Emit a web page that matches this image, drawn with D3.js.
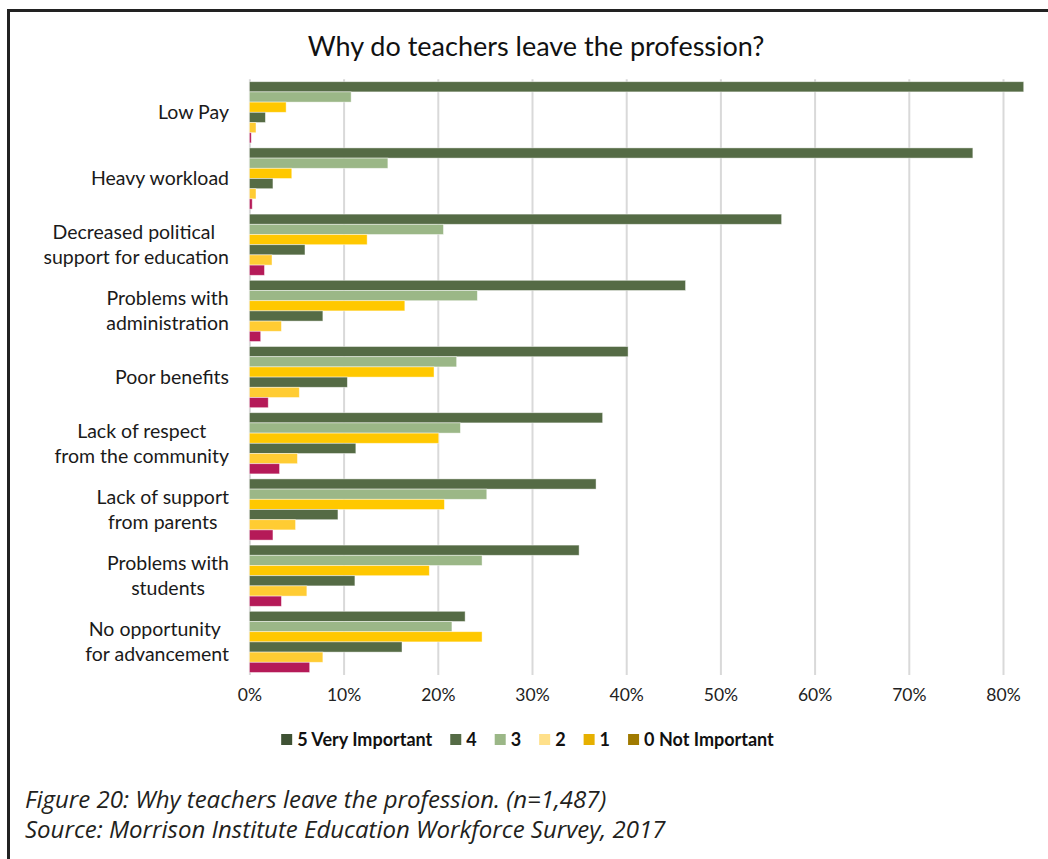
<!DOCTYPE html>
<html>
<head>
<meta charset="utf-8">
<script src="https://cdn.jsdelivr.net/npm/d3@7"></script>
<style>
  html, body { margin: 0; padding: 0; background: #fff; }
  svg { display: block; }
</style>
</head>
<body>
<svg id="chart" width="1048" height="859"></svg>
<script>
// ---------------- DATA ----------------
const categories = [
  "Low Pay",
  "Heavy workload",
  "Decreased political \nsupport for education",
  "Problems with\nadministration",
  "Poor benefits",
  "Lack of respect\nfrom the community",
  "Lack of support\nfrom parents",
  "Problems with\nstudents",
  "No opportunity \nfor advancement"
];
const seriesNames = ["5 Very Important", "4", "3", "2", "1", "0 Not Important"];
const s5 = [82.2, 76.8, 56.5, 46.3, 40.2, 37.5, 36.8, 35.0, 22.9];
const s4 = [10.8, 14.7, 20.6, 24.2, 22.0, 22.4, 25.2, 24.7, 21.5];
const s3 = [3.9, 4.5, 12.5, 16.5, 19.6, 20.1, 20.7, 19.1, 24.7];
const s2 = [1.7, 2.5, 5.9, 7.8, 10.4, 11.3, 9.4, 11.2, 16.2];
const s1 = [0.7, 0.7, 2.4, 3.4, 5.3, 5.1, 4.9, 6.1, 7.8];
const s0 = [0.2, 0.3, 1.6, 1.2, 2.0, 3.2, 2.5, 3.4, 6.4];
const seriesValues = [s5, s4, s3, s2, s1, s0];
const gridValues = [0, 10, 20, 30, 40, 50, 60, 70, 80, 90];
const tickLabels = [0, 10, 20, 30, 40, 50, 60, 70, 80];
const title = "Why do teachers leave the profession?";
const captionLines = [
  "Figure 20: Why teachers leave the profession. (n=1,487)",
  "Source: Morrison Institute Education Workforce Survey, 2017"
];

// ---------------- STYLE ----------------
const barColors = ["#556B45", "#9BB787", "#FFC800", "#556B45", "#FFCC33", "#B51A58"];
const legendColors = ["#3F5234", "#556B45", "#9BB787", "#FFE08A", "#E6B000", "#A07A00"];
const labelFont = "Lato, 'Open Sans', sans-serif";

const svg = d3.select("#chart");

// frame
svg.append("path")
  .attr("d", "M8.5,1100 L8.5,10.5 L1100,10.5")
  .attr("fill", "none").attr("stroke", "#222").attr("stroke-width", 3);

// scales
const x = d3.scaleLinear().domain([0, 90]).range([249.4, 249.4 + 9 * 94.2]);
const y = d3.scaleBand().domain(d3.range(categories.length))
  .range([79.2, 79.2 + 9 * 66.2]).paddingInner(0.0755).paddingOuter(0.0378);
const yi = d3.scaleBand().domain(d3.range(seriesNames.length)).range([0, y.bandwidth()]);

const plotTop = 79.2, plotBottom = 79.2 + 9 * 66.2;

// gridlines via axis
const grid = svg.append("g").attr("transform", `translate(0,${plotTop})`)
  .call(d3.axisBottom(x).tickValues(gridValues).tickSize(plotBottom - plotTop).tickFormat(""));
grid.select(".domain").remove();
grid.selectAll(".tick line").attr("stroke", "#D9D9D9").attr("stroke-width", 2);

// bars
const groups = svg.append("g").selectAll("g")
  .data(categories.map((c, i) => ({ c, i })))
  .join("g")
  .attr("transform", d => `translate(0,${y(d.i)})`);

groups.selectAll("rect")
  .data(d => seriesValues.map((arr, k) => ({ k, v: arr[d.i] })))
  .join("rect")
  .attr("x", x(0))
  .attr("y", d => yi(d.k))
  .attr("width", d => x(d.v) - x(0))
  .attr("height", yi.bandwidth())
  .attr("fill", d => barColors[d.k])
  .attr("stroke", "#ffffff").attr("stroke-opacity", 0.55).attr("stroke-width", 0.8);

// x axis labels
const xAxis = svg.append("g").attr("transform", `translate(0,${plotBottom})`)
  .call(d3.axisBottom(x).tickValues(tickLabels).tickSize(0).tickPadding(14).tickFormat(d => d + "%"));
xAxis.select(".domain").remove();
xAxis.selectAll("text").attr("font-family", labelFont).attr("font-size", 17.5).attr("fill", "#222");

// category labels
const labelRight = 229;
categories.forEach((c, i) => {
  const lines = c.split("\n");
  const g = svg.append("g");
  const lh = 25;
  const cy = y(i) + y.bandwidth() / 2;
  const texts = lines.map((ln, j) => g.append("text")
    .attr("font-family", labelFont).attr("font-size", 19.5).attr("fill", "#1a1a1a")
    .attr("text-anchor", "middle")
    .attr("y", cy + (j - (lines.length - 1) / 2) * lh)
    .attr("dy", "0.35em")
    .style("white-space", "pre")
    .text(ln));
  const maxW = d3.max(texts, t => t.node().getComputedTextLength());
  texts.forEach(t => t.attr("x", labelRight - maxW / 2));
});

// title
svg.append("text").attr("x", 536).attr("y", 47).attr("dy", "0.35em")
  .attr("text-anchor", "middle").attr("font-family", labelFont).attr("font-size", 27)
  .attr("fill", "#111").text(title);

// legend
const legend = svg.append("g");
let lx = 0;
seriesNames.forEach((n, k) => {
  const it = legend.append("g").attr("transform", `translate(${lx},0)`);
  it.append("rect").attr("x", 0).attr("y", -6).attr("width", 11).attr("height", 11)
    .attr("fill", legendColors[k]);
  const t = it.append("text").attr("x", 16).attr("y", 0).attr("dy", "0.35em")
    .attr("font-family", labelFont).attr("font-weight", "bold").attr("font-size", 18)
    .attr("fill", "#111").text(n);
  lx += 16 + t.node().getComputedTextLength() + 18;
});
const legendW = lx - 18;
legend.attr("transform", `translate(${527.5 - legendW / 2},740)`);

// caption
captionLines.forEach((ln, j) => {
  svg.append("text").attr("x", 25).attr("y", 800 + j * 30).attr("dy", "0.35em")
    .attr("font-family", "'Liberation Sans Narrow', 'Open Sans', sans-serif")
    .attr("font-style", "italic").attr("font-size", 24).attr("fill", "#231F20")
    .text(ln);
});
</script>
</body>
</html>
